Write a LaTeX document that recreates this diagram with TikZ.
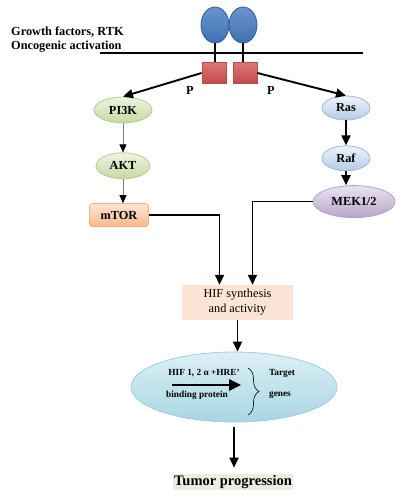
\documentclass[tikz,border=0pt]{standalone}
\usepackage{fontspec}
\setmainfont{Liberation Serif}
\usetikzlibrary{positioning,arrows.meta,shapes.geometric,decorations.pathreplacing}

\definecolor{recTop}{HTML}{6A96CF}
\definecolor{recBot}{HTML}{3F70B0}
\definecolor{recLine}{HTML}{2F5A8F}
\definecolor{kinTop}{HTML}{DC7674}
\definecolor{kinBot}{HTML}{C04A48}
\definecolor{kinLine}{HTML}{B5504E}
\definecolor{grnTop}{HTML}{EEF4E2}
\definecolor{grnBot}{HTML}{C6D9A2}
\definecolor{grnLine}{HTML}{B8CC92}
\definecolor{bluTop}{HTML}{EEF3FA}
\definecolor{bluBot}{HTML}{B5CBE6}
\definecolor{bluLine}{HTML}{9DB8DA}
\definecolor{purTop}{HTML}{E9E3F0}
\definecolor{purBot}{HTML}{B6A6CB}
\definecolor{purLine}{HTML}{B3A2C7}
\definecolor{orTop}{HTML}{FDE6D3}
\definecolor{orBot}{HTML}{F8B88A}
\definecolor{orLine}{HTML}{F3B184}
\definecolor{hifFill}{HTML}{FCE5D6}
\definecolor{ellTop}{HTML}{DCF0F5}
\definecolor{ellBot}{HTML}{A8D6E3}
\definecolor{ellLine}{HTML}{9FCEDC}
\definecolor{tumFill}{HTML}{EEECE1}

\begin{document}
\begin{tikzpicture}[x=1pt,y=-1pt,
  every node/.style={font=\bfseries\fontsize{12.3}{14}\selectfont},
  blob/.style={ellipse,inner sep=0pt,line width=0.8pt},
  receptor/.style={blob,top color=recTop,bottom color=recBot,draw=recLine,minimum width=28pt,minimum height=36pt},
  kinase/.style={rectangle,inner sep=0pt,top color=kinTop,bottom color=kinBot,draw=kinLine,line width=0.8pt,minimum width=24pt,minimum height=21pt},
  green node/.style={blob,top color=grnTop,bottom color=grnBot,draw=grnLine,minimum height=26pt},
  blue node/.style={blob,top color=bluTop,bottom color=bluBot,draw=bluLine,minimum width=48pt,minimum height=24pt},
  purple node/.style={blob,top color=purTop,bottom color=purBot,draw=purLine,minimum width=82pt,minimum height=32pt},
  orange node/.style={rectangle,rounded corners=3pt,top color=orTop,bottom color=orBot,draw=orLine,line width=0.8pt,minimum width=59pt,minimum height=23pt},
  small text/.style={font=\bfseries\fontsize{9.3}{11}\selectfont,inner sep=0pt},
  main arrow/.style={-{Triangle[length=10pt,width=9pt]},line width=1.9pt},
  grey arrow/.style={-{Triangle[length=8pt,width=7pt,color=black]},draw=gray,line width=0.9pt},
  join arrow/.style={-{Triangle[length=10pt,width=9pt]},line width=1.7pt}]

\useasboundingbox (0,0) rectangle (416,500);

% membrane and receptor
\node[align=left,anchor=west,inner sep=0pt,font=\bfseries\fontsize{12.3}{14}\selectfont] (title) at (11,40) {Growth factors, RTK\\Oncogenic activation};
\coordinate (memL) at (100,53);
\coordinate (memR) at (363,53);
\draw[line width=1.4pt] (memL) -- (memR);

\node[receptor] (recl) at (215,25) {};
\node[receptor] (recr) at (243,25) {};
\node[kinase] (sql) at (214,73) {};
\node[kinase] (sqr) at (245,73) {};
\draw[line width=1.5pt] (recl.south) -- (recl.south |- sql.north);
\draw[line width=1.5pt] (recr.south) -- (recr.south |- sqr.north);
\node (pl) at (190,90) {P};
\node (pr) at (271,90) {P};

% PI3K branch
\node[green node,minimum width=58pt] (pik) at (123,110) {PI3K};
\node[green node,minimum width=54pt] (akt) [below=29pt of pik] {AKT};
\node[orange node] (mtor) [below=24pt of akt,xshift=-4pt] {mTOR};

% Ras branch
\node[blue node] (ras) at (346,108) {Ras};
\node[blue node,minimum height=25pt] (raf) [below=25pt of ras] {Raf};
\node[purple node] (mek) [below=14pt of raf,xshift=8pt] {MEK1/2};

% HIF
\node[rectangle,fill=hifFill,minimum width=111pt,minimum height=35pt,align=center,font=\fontsize{12.3}{15}\selectfont] (hif) at (237.5,302.5) {HIF synthesis\\and activity};
\coordinate (inL) at ([xshift=-18pt]hif.north);
\coordinate (inR) at ([xshift=15pt]hif.north);

\node[blob,top color=ellTop,bottom color=ellBot,draw=ellLine,minimum width=206pt,minimum height=70pt] (bige) at (234,387) {};
\node[small text] (hre) at (204,373) {HIF 1, 2 α +HRE'};
\node[small text] (bind) at (197,395) {binding protein};
\coordinate (bpL) at (172,385);
\coordinate (bpR) at (241,385);
\coordinate (brT) at (248,368);
\coordinate (brB) at (248,415);
\node[small text] (target) at (282,373) {Target};
\node[small text] (genes) at (280,395) {genes};

\node[fill=tumFill,inner sep=1.5pt,font=\bfseries\fontsize{14.5}{16}\selectfont] (tumor) at (233,482) {Tumor progression};

% connectors
\draw[main arrow] (sql.west) -- (pik.north);
\draw[main arrow] (sqr.east) -- (ras.north);
\draw[grey arrow] (pik.south) -- (akt.north);
\draw[grey arrow] (akt.south) -- (akt.south |- mtor.north);
\draw[main arrow] (ras) -- (raf);
\draw[main arrow] (raf.south) -- (raf.south |- mek.north);
\draw[join arrow] (mtor.east) -| (inL);
\draw[join arrow] (mek.west) -| (inR);
\draw[join arrow] (hif.south) -- (hif.south |- bige.north);
\draw[line width=2.6pt,-{Triangle[length=12pt,width=11pt]}] (bpL) -- (bpR);
\draw[decorate,decoration={brace,amplitude=11pt},line width=0.6pt] (brT) -- (brB);
\draw[join arrow,shorten <=5pt,shorten >=6pt] (bige.south) -- (bige.south |- tumor.north);

\end{tikzpicture}
\end{document}
